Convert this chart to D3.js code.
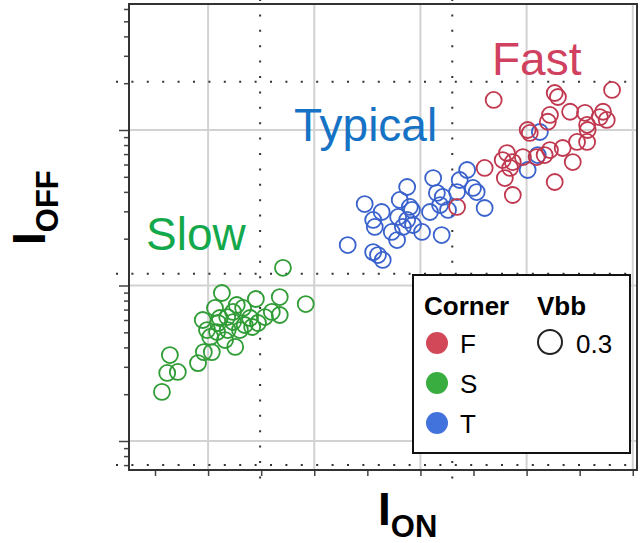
<!DOCTYPE html>
<html><head><meta charset="utf-8">
<script src="https://cdn.jsdelivr.net/npm/d3@7"></script>
<style>body{margin:0;background:#fff;}svg{display:block;font-family:"Liberation Sans",Arial,sans-serif;}</style>
</head><body>
<script>
// ---- data (x in axis-tick units, y = current, log scale) ----
const xTicks = [0,1,2,3,4,5,6,7,8,9];
const xGrid = [1,3,5,7,9];
const yGrid = [1,10,100];
const xSpec = [1.98, 5.6];
const ySpec = [0.70, 11.9, 204];
const corners = ["F","S","T"];
const cornerLabels = ["Fast","Slow","Typical"];
const vbbLevels = ["0.3"];

const slowX = [2.41,1.26,1.90,2.35,2.84,1.13,1.54,2.35,0.90,1.36,1.47,2.07,1.94,1.69,0.98,1.17,1.37,1.60,1.83,1.04,1.32,1.51,1.07,0.92,0.81,0.28,0.23,0.43,0.13,1.19,2.20,1.47,1.66,1.22,1.79];
const slowY = [13.0,8.95,8.19,8.43,7.60,7.17,7.49,6.46,6.00,6.27,5.82,6.27,5.74,5.57,5.17,5.02,5.17,5.17,5.41,4.67,4.46,4.03,3.73,3.73,3.17,3.57,2.74,2.78,2.07,5.74,6.76,6.76,7.17,6.18,6.18];

const typX = [3.95,4.75,4.61,5.24,5.88,5.74,5.99,6.06,5.42,5.37,5.18,5.52,6.21,4.11,4.14,4.58,4.75,4.84,4.86,4.67,4.46,4.56,5.03,5.40,3.63,4.11,4.29,4.20,4.80,5.31,5.69,7.25,7.21,7.02,4.27];
const typY = [33.4,43.0,35.5,49.1,55.3,47.7,42.4,39.9,37.1,32.9,29.7,30.6,31.5,26.4,23.8,27.6,26.4,30.6,24.5,23.8,22.1,19.6,22.1,21.1,18.2,16.4,14.6,15.7,32.0,39.4,39.9,97.1,69.0,55.3,29.7];

const fastX = [6.38,7.53,7.59,8.61,7.82,8.10,8.44,8.51,7.44,7.40,8.14,8.15,7.02,7.06,7.95,8.14,7.44,7.34,6.63,6.55,6.74,7.87,6.21,6.69,6.59,6.93,7.53,6.74,7.19,8.38,5.69,7.68];
const fastY = [156,173,163,181,131,129,131,116,125,113,108,100,100,95.7,83.8,83.8,74.3,69.0,71.1,64.1,62.2,62.2,57.0,57.0,49.1,67.0,46.3,38.2,67.0,121,32.0,76.6];

const W = 642, H = 543;
const L = 129, R = 637, T = 4, B = 470;
const colors = {F:"#c0384f", S:"#2f9c35", T:"#3a62cc"};
const legendColors = {F:"#d24858", S:"#3aad40", T:"#4272db"};
const labelColors = {F:"#d0405f", S:"#14a84c", T:"#1672c4"};

const svg = d3.select("body").append("svg").attr("width",W).attr("height",H);
const x = d3.scaleLinear().domain([-0.49, 9.08]).range([L, R]);
const y = d3.scaleLog().domain([0.651, 646]).range([B, T]);

// grid
svg.append("g").selectAll("line").data(xGrid).join("line")
  .attr("x1",d=>x(d)).attr("x2",d=>x(d)).attr("y1",T).attr("y2",B)
  .attr("stroke","#d2d2d2").attr("stroke-width",2);
svg.append("g").selectAll("line").data(yGrid).join("line")
  .attr("x1",L).attr("x2",R).attr("y1",d=>y(d)).attr("y2",d=>y(d))
  .attr("stroke","#d2d2d2").attr("stroke-width",2);

// spec (dotted) lines
svg.append("g").selectAll("line").data(xSpec).join("line")
  .attr("x1",d=>x(d)).attr("x2",d=>x(d)).attr("y1",-1).attr("y2",482)
  .attr("stroke","#333").attr("stroke-width",2).attr("stroke-dasharray","2,13.4");
svg.append("g").selectAll("line").data(ySpec).join("line")
  .attr("x1",116).attr("x2",R).attr("y1",d=>y(d)).attr("y2",d=>y(d))
  .attr("stroke","#333").attr("stroke-width",2).attr("stroke-dasharray","2,13.4");

// axes
const xAxis = d3.axisBottom(x).tickValues(xTicks).tickSize(6).tickFormat("");
const gx = svg.append("g").attr("transform",`translate(0,${B})`).call(xAxis);
gx.select(".domain").remove();
gx.selectAll("line").attr("stroke","#444").attr("stroke-width",1.5);

const minorVals = [];
[0.1,1,10,100].forEach(dec=>{for(let k=1;k<10;k++){const v=dec*k; if(v>=0.66 && v<=640 && ![1,10,100].includes(v)) minorVals.push(v);}});
const yMinor = d3.axisLeft(y).tickValues(minorVals).tickSize(5).tickFormat("");
const gy1 = svg.append("g").attr("transform",`translate(${L},0)`).call(yMinor);
gy1.select(".domain").remove();
gy1.selectAll("line").attr("stroke","#444").attr("stroke-width",1.5);
const yMajor = d3.axisLeft(y).tickValues(yGrid).tickSize(10).tickFormat("");
const gy2 = svg.append("g").attr("transform",`translate(${L},0)`).call(yMajor);
gy2.select(".domain").remove();
gy2.selectAll("line").attr("stroke","#444").attr("stroke-width",1.5);

// frame
svg.append("rect").attr("x",L).attr("y",T).attr("width",R-L).attr("height",B-T)
  .attr("fill","none").attr("stroke","#333").attr("stroke-width",2);

// points
const series = [
  {c:"S", xs:slowX, ys:slowY},
  {c:"T", xs:typX, ys:typY},
  {c:"F", xs:fastX, ys:fastY}
];
series.forEach(s=>{
  const pts = s.xs.map((v,i)=>({x:v,y:s.ys[i]}));
  svg.append("g").selectAll("circle").data(pts).join("circle")
    .attr("cx",d=>x(d.x)).attr("cy",d=>y(d.y)).attr("r",8)
    .attr("fill","none").attr("stroke",colors[s.c]).attr("stroke-width",1.8);
});

// cluster labels
svg.append("text").attr("x",492).attr("y",75).attr("font-size",46).attr("fill",labelColors.F).text(cornerLabels[0]);
svg.append("text").attr("x",294).attr("y",141).attr("font-size",46).attr("fill",labelColors.T).text(cornerLabels[2]);
svg.append("text").attr("x",146).attr("y",250).attr("font-size",46).attr("fill",labelColors.S).text(cornerLabels[1]);

// axis titles
const xt = svg.append("text").attr("x",378).attr("y",525).attr("font-weight","bold").attr("fill","#000");
xt.append("tspan").attr("font-size",46).text("I");
xt.append("tspan").attr("font-size",31).attr("dy",12).text("ON");
const yt = svg.append("text").attr("transform","translate(45,245) rotate(-90)").attr("font-weight","bold").attr("fill","#000");
yt.append("tspan").attr("font-size",46).text("I");
yt.append("tspan").attr("font-size",31).attr("dy",13).text("OFF");

// legend
const lg = svg.append("g");
lg.append("rect").attr("x",413).attr("y",275).attr("width",217).attr("height",178)
  .attr("fill","#fff").attr("stroke","#111").attr("stroke-width",2);
lg.append("text").attr("x",424).attr("y",315).attr("font-size",26).attr("font-weight","bold").text("Corner");
lg.append("text").attr("x",537).attr("y",315).attr("font-size",26).attr("font-weight","bold").text("Vbb");
corners.forEach((c,i)=>{
  lg.append("circle").attr("cx",437).attr("cy",343+i*40).attr("r",11).attr("fill",legendColors[c]);
  lg.append("text").attr("x",460).attr("y",353+i*40).attr("font-size",26).text(c);
});
vbbLevels.forEach((v,i)=>{
  lg.append("circle").attr("cx",550).attr("cy",342+i*40).attr("r",12).attr("fill","none").attr("stroke","#222").attr("stroke-width",2);
  lg.append("text").attr("x",576).attr("y",353+i*40).attr("font-size",26).text(v);
});
</script>
</body></html>
